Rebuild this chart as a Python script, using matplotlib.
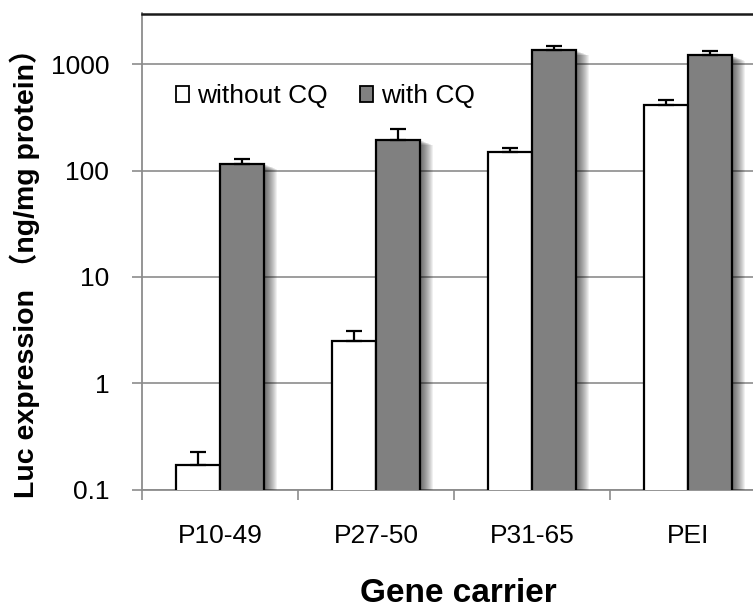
import matplotlib
matplotlib.use("Agg")
import matplotlib.pyplot as plt
import matplotlib.patheffects as pe
from matplotlib.patches import Patch
import numpy as np

plt.rcParams['font.family'] = ['Liberation Sans', 'Noto Sans CJK SC', 'DejaVu Sans']

categories = ["P10-49", "P27-50", "P31-65", "PEI"]
without_cq = [0.17, 2.47, 150, 411]
without_err = [0.055, 0.64, 12, 54]
with_cq = [116, 195, 1360, 1213]
with_err = [12, 50, 113, 117]
series_names = ["without CQ", "with CQ"]
ytick_vals = [0.1, 1, 10, 100, 1000]
ytick_labels = ["0.1", "1", "10", "100", "1000"]

W, H = 753, 610
fig = plt.figure(figsize=(W / 100, H / 100), dpi=100)
ax = fig.add_axes([142 / W, 120.5 / H, 624 / W, 476 / H])

x = np.arange(len(categories))
bw = 0.285

def shadow_effects():
    effs = []
    for k in range(1, 14):
        effs.append(pe.SimplePatchShadow(offset=(k * 0.72, -k * 0.3),
                                         shadow_rgbFace='black', alpha=0.06))
    effs.append(pe.Normal())
    return effs

b1 = ax.bar(x - bw / 2, without_cq, width=bw, color='white', edgecolor='black',
            linewidth=1.6, zorder=3)
b2 = ax.bar(x + bw / 2, with_cq, width=bw, color='#808080', edgecolor='black',
            linewidth=1.6, zorder=3)
for b in list(b1) + list(b2):
    b.set_path_effects(shadow_effects())

ax.errorbar(x - bw / 2, without_cq, yerr=[np.zeros(len(x)), without_err],
            fmt='none', ecolor='black', elinewidth=1.6, capsize=5.5, capthick=1.6, zorder=4)
ax.errorbar(x + bw / 2, with_cq, yerr=[np.zeros(len(x)), with_err],
            fmt='none', ecolor='black', elinewidth=1.6, capsize=5.5, capthick=1.6, zorder=4)

ax.set_yscale('log')
ax.set_ylim(0.1, 3000)
ax.set_xlim(-0.5, len(categories) - 0.5)
ax.set_yticks(ytick_vals)
ax.set_yticklabels(ytick_labels)
ax.yaxis.set_minor_locator(matplotlib.ticker.NullLocator())
ax.tick_params(axis='y', which='major', direction='out', length=7, width=1.2,
               color='#8c8c8c', labelsize=19, pad=16.5)

ax.set_xticks(x)
ax.set_xticklabels(categories)
ax.set_xticks(np.arange(len(categories) + 1) - 0.5, minor=True)
ax.tick_params(axis='x', which='major', length=0, labelsize=19, pad=25)
ax.tick_params(axis='x', which='minor', direction='out', length=7, width=1.2, color='#8c8c8c')

ax.set_axisbelow(True)
ax.yaxis.grid(True, color='#8c8c8c', linewidth=1.2, zorder=0)

for s in ['left', 'bottom']:
    ax.spines[s].set_color('#8c8c8c')
    ax.spines[s].set_linewidth(1.3)
ax.spines['top'].set_color('#1a1a1a')
ax.spines['top'].set_linewidth(1.8)
ax.spines['right'].set_visible(False)

handles = [Patch(facecolor='white', edgecolor='black', linewidth=1.3),
           Patch(facecolor='#808080', edgecolor='black', linewidth=1.3)]
ax.legend(handles, series_names, loc='center left',
          bbox_to_anchor=(176 / W, (H - 96) / H), bbox_transform=fig.transFigure,
          ncol=2, frameon=False, fontsize=19, handlelength=0.48, handleheight=0.55,
          handletextpad=0.3, columnspacing=1.25, borderpad=0, borderaxespad=0)

fig.text(25 / W, (H - 266) / H, "Luc expression （ng/mg protein）", rotation=90,
         ha='center', va='center', fontsize=20.5, fontweight='bold')
fig.text(458 / W, 8 / H, "Gene carrier", ha='center', va='baseline',
         fontsize=24, fontweight='bold')

fig.savefig("out.png", dpi=100)
